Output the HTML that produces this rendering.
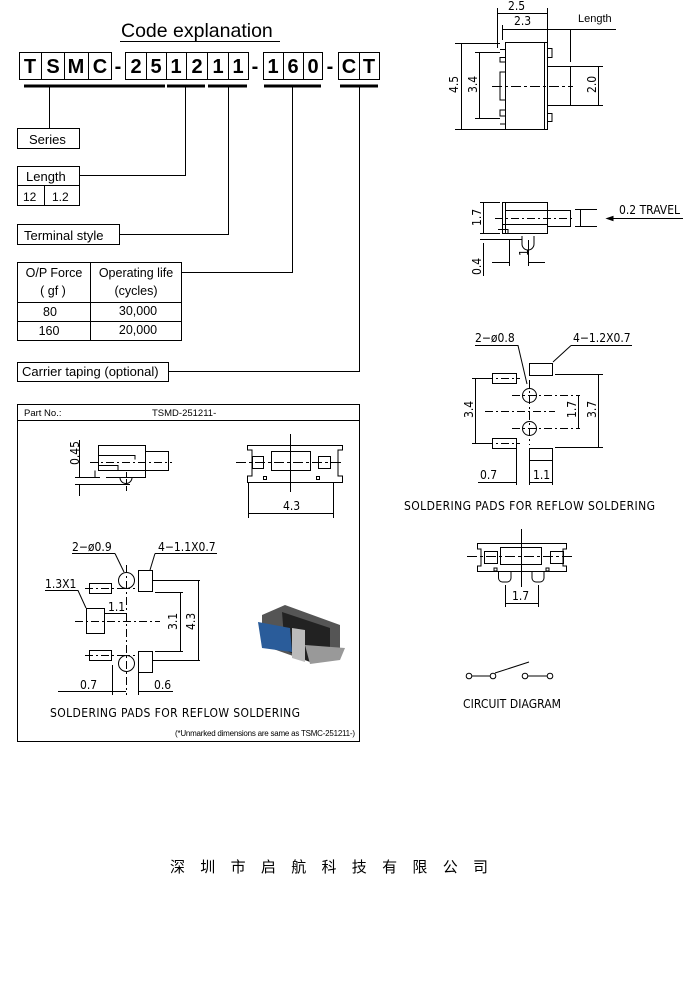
<!DOCTYPE html>
<html><head><meta charset="utf-8"><style>
html,body{margin:0;padding:0;background:#fff;width:698px;height:986px;overflow:hidden}
svg{display:block}
text{font-family:"Liberation Sans",sans-serif;fill:#000}
.b{font-weight:bold;font-size:20px}
.c{font-family:"DejaVu Sans Condensed","Liberation Sans Narrow","Liberation Sans",sans-serif}
</style></head><body>
<svg width="698" height="986" viewBox="0 0 698 986" xmlns="http://www.w3.org/2000/svg" fill="none" stroke="#000" stroke-width="1">
<!-- Code explanation -->
<text x="121" y="37" font-size="19.5" stroke="none">Code explanation</text>
<line x1="120" y1="41.5" x2="280" y2="41.5"/>
<g stroke-width="1">
<rect x="19.5" y="52.5" width="92" height="27"/><line x1="41.5" y1="52" x2="41.5" y2="80"/><line x1="64.5" y1="52" x2="64.5" y2="80"/><line x1="88.5" y1="52" x2="88.5" y2="80"/>
<rect x="125.5" y="52.5" width="123" height="27"/><line x1="146.5" y1="52" x2="146.5" y2="80"/><line x1="166.5" y1="52" x2="166.5" y2="80"/><line x1="186.5" y1="52" x2="186.5" y2="80"/><line x1="207.5" y1="52" x2="207.5" y2="80"/><line x1="228.5" y1="52" x2="228.5" y2="80"/>
<rect x="263.5" y="52.5" width="59" height="27"/><line x1="283.5" y1="52" x2="283.5" y2="80"/><line x1="303.5" y1="52" x2="303.5" y2="80"/>
<rect x="338.5" y="52.5" width="41" height="27"/><line x1="359.5" y1="52" x2="359.5" y2="80"/>
</g>
<g stroke="none" font-weight="bold" font-size="20" text-anchor="middle">
<text x="30" y="73" font-weight="bold">T</text><text x="53" y="73" font-weight="bold">S</text><text x="76" y="73" font-weight="bold">M</text><text x="100" y="73" font-weight="bold">C</text>
<text x="118" y="73" font-weight="bold">-</text>
<text x="136" y="73" font-weight="bold">2</text><text x="156" y="73" font-weight="bold">5</text><text x="176" y="73" font-weight="bold">1</text><text x="197" y="73" font-weight="bold">2</text><text x="218" y="73" font-weight="bold">1</text><text x="238" y="73" font-weight="bold">1</text>
<text x="255" y="73" font-weight="bold">-</text>
<text x="273" y="73" font-weight="bold">1</text><text x="293" y="73" font-weight="bold">6</text><text x="313" y="73" font-weight="bold">0</text>
<text x="330" y="73" font-weight="bold">-</text>
<text x="349" y="73" font-weight="bold">C</text><text x="369" y="73" font-weight="bold">T</text>
</g>
<g stroke-width="3">
<line x1="24" y1="86" x2="165" y2="86"/><line x1="167" y1="86" x2="205" y2="86"/><line x1="208" y1="86" x2="247" y2="86"/><line x1="264" y1="86" x2="321" y2="86"/><line x1="340" y1="86" x2="378" y2="86"/>
</g>
<path d="M49.5 86V128M185.5 86V175.5H79M228.5 86V234.5H119M292.5 86V272.5H181M359.5 86V371.5H168"/>
<rect x="17.5" y="128.5" width="62" height="20"/>
<text x="29" y="144" font-size="13" stroke="none">Series</text>
<rect x="17.5" y="166.5" width="62" height="39"/><line x1="17" y1="185.5" x2="80" y2="185.5"/><line x1="44.5" y1="185" x2="44.5" y2="206"/>
<text x="26" y="181" font-size="13" stroke="none">Length</text>
<text x="23" y="201" font-size="12" stroke="none">12</text><text x="52" y="201" font-size="12" stroke="none">1.2</text>
<rect x="17.5" y="224.5" width="102" height="20"/>
<text x="24" y="240" font-size="13" stroke="none">Terminal style</text>
<rect x="17.5" y="262.5" width="164" height="78"/><line x1="90.5" y1="262" x2="90.5" y2="341"/><line x1="17" y1="302.5" x2="182" y2="302.5"/><line x1="17" y1="321.5" x2="182" y2="321.5"/>
<g stroke="none" font-size="12.5" text-anchor="middle">
<text x="54" y="277">O/P Force</text><text x="53" y="295">( gf )</text>
<text x="136" y="277">Operating life</text><text x="136" y="295">(cycles)</text>
<text x="50" y="316">80</text><text x="138" y="315">30,000</text>
<text x="49" y="335">160</text><text x="138" y="334">20,000</text>
</g>
<rect x="17.5" y="362.5" width="151" height="19"/>
<text x="22" y="376" font-size="13" stroke="none">Carrier taping (optional)</text>

<!-- bottom-left panel -->
<rect x="17.5" y="404.5" width="342" height="337"/>
<line x1="17" y1="420.5" x2="360" y2="420.5"/>
<text x="24" y="416" font-size="9.5" stroke="none">Part No.:</text>
<text x="152" y="416" font-size="9.5" stroke="none">TSMD-251211-</text>
<!-- side view -->
<path d="M98.5 445.5H145.5V470.5H98.5ZM145.5 451.5H168.5V470.5H145.5ZM98.5 455.5H135V459.5M98.5 465.5H118V470.5M95 470.5V477.5H98M106 477.5H145.5V470.5M120 477.5A6 6 0 0 0 132 477.5"/>
<path d="M90 462.5H172" stroke-dasharray="8 3 2 3"/>
<path d="M126.5 472V492" stroke-dasharray="5 2"/>
<path d="M75 477.5H100M75 484.5H130M79.5 440V477M79.5 484V496"/>
<text x="0" y="0" font-size="12" stroke="none" class="c" transform="translate(79 465) rotate(-90)">0.45</text>
<!-- top view -->
<path d="M247.5 445.5H342.5V450H338V476H342.5V482.5H247.5V476H252V450H247.5Z"/>
<rect x="271.5" y="451.5" width="39" height="19"/><rect x="252.5" y="456.5" width="11" height="12"/><rect x="318.5" y="456.5" width="12" height="12"/>
<rect x="263.5" y="476.5" width="3" height="3"/><rect x="316.5" y="476.5" width="3" height="3"/>
<path d="M236 462.5H342" stroke-dasharray="10 3 3 3"/><path d="M290.5 434V492"/>
<path d="M248.5 482V518M333.5 482V518M249 513.5H333"/>
<text x="283" y="510" font-size="12" stroke="none" class="c">4.3</text>
<!-- pads -->
<text x="72" y="551" font-size="12" stroke="none" class="c">2−ø0.9</text><line x1="72" y1="553.5" x2="115" y2="553.5"/>
<path d="M115 553.5L124 572"/>
<text x="158" y="551" font-size="12" stroke="none" class="c">4−1.1X0.7</text><line x1="155" y1="553.5" x2="217" y2="553.5"/>
<path d="M155 553.5L150 570"/>
<circle cx="126.5" cy="580.5" r="8"/><circle cx="126.5" cy="663.5" r="8"/>
<rect x="138.5" y="570.5" width="14" height="21"/><rect x="138.5" y="651.5" width="14" height="21"/>
<rect x="89.5" y="583.5" width="22" height="10"/><rect x="89.5" y="650.5" width="22" height="10"/>
<rect x="86.5" y="608.5" width="18" height="25"/>
<text x="45" y="588" font-size="12" stroke="none" class="c">1.3X1</text>
<path d="M45 590.5H78L86 608"/>
<path d="M126.5 565V695" stroke-dasharray="8 3 2 3"/>
<path d="M75 621.5H160M85 588.5H135M85 655.5H135" stroke-dasharray="8 3 2 3"/>
<text x="108" y="611" font-size="12" stroke="none" class="c">1.1</text><path d="M105 613.5H126"/>
<path d="M153 580.5H200M155 592.5H183M155 651.5H183M153 660.5H200M180.5 593V651M198.5 581V660"/>
<text x="0" y="0" font-size="12" stroke="none" class="c" transform="translate(177 630) rotate(-90)">3.1</text>
<text x="0" y="0" font-size="12" stroke="none" class="c" transform="translate(195 630) rotate(-90)">4.3</text>
<path d="M112.5 665V695M138.5 665V695M58 691.5H126M138 691.5H173"/>
<text x="80" y="689" font-size="12" stroke="none" class="c">0.7</text>
<text x="154" y="689" font-size="12" stroke="none" class="c">0.6</text>
<text x="50" y="717" font-size="12" stroke="none" class="c" textLength="250">SOLDERING PADS FOR REFLOW SOLDERING</text>
<text x="175" y="736" font-size="8" stroke="none" textLength="180">(*Unmarked dimensions are same as TSMC-251211-)</text>
<!-- photo -->
<g stroke="none">
<path d="M262 615L285 605L340 625L340 650L310 662L262 645Z" fill="#555"/>
<path d="M282 612L330 628L330 655L310 662L285 650Z" fill="#222"/>
<path d="M258 622L290 628L292 652L262 648Z" fill="#2a5c9a"/>
<path d="M292 628L305 630L305 662L292 658Z" fill="#bbb"/>
<path d="M305 645L345 648L340 660L310 664Z" fill="#999"/>
</g>

<!-- right: top view -->
<path d="M505.5 42.5H547.5V129.5H505.5ZM500 49.5H505.5V57.5H500V62H505.5V72H500V100H505.5V110H500V116H505.5V124H500M547.5 48.5H552V57.5H547.5M547.5 113.5H552V121.5H547.5M544.5 43V129"/>
<rect x="547.5" y="66.5" width="23" height="39"/>
<path d="M492 86.5H573" stroke-dasharray="10 3 3 3"/>
<path d="M497.5 8V48M547.5 8V48M497 13.5H547M502.5 25V40M502 29.5H616M570.5 29V62"/>
<text x="508" y="10" font-size="12" stroke="none" class="c">2.5</text>
<text x="514" y="25" font-size="12" stroke="none" class="c">2.3</text>
<text x="578" y="22" font-size="11" stroke="none">Length</text>
<path d="M455 43.5H500M475 52.5H500M475 118.5H500M455 129.5H505M461.5 43V129M479.5 52V118M570 66.5H603M570 105.5H603M598.5 66V105"/>
<text x="0" y="0" font-size="12" stroke="none" class="c" transform="translate(458 93) rotate(-90)">4.5</text>
<text x="0" y="0" font-size="12" stroke="none" class="c" transform="translate(477 93) rotate(-90)">3.4</text>
<text x="0" y="0" font-size="12" stroke="none" class="c" transform="translate(596 93) rotate(-90)">2.0</text>
<!-- right: side view -->
<path d="M502.5 202.5H547.5V233.5H502.5ZM505.5 210.5H547.5M505.5 202V233M502.5 224.5H547.5M498 229.5H508V234M547.5 210.5H570.5V226.5H547.5"/>
<path d="M495 218.5H575" stroke-dasharray="8 3 2 3"/>
<path d="M522 236V244A6 6 0 0 0 534 244V236"/>
<path d="M480 202.5H500M480 233.5H500M483.5 202V233M480 239.5H522M483.5 243V276M575 209.5H597M575 226.5H597M580.5 210V226"/>
<text x="0" y="0" font-size="12" stroke="none" class="c" transform="translate(481 226) rotate(-90)">1.7</text>
<text x="0" y="0" font-size="12" stroke="none" class="c" transform="translate(481 275) rotate(-90)">0.4</text>
<path d="M509.5 240V266M528.5 240V266M492 262.5H509M528 262.5H545"/>
<text x="0" y="0" font-size="12" stroke="none" class="c" transform="translate(528 256) rotate(-90)">1</text>
<path d="M607 218.5H683"/><path d="M607 218.5L613 216.5V220.5Z" fill="#000"/>
<text x="619" y="214" font-size="12" stroke="none" class="c">0.2 TRAVEL</text>
<!-- right: pads -->
<text x="475" y="342" font-size="12" stroke="none" class="c">2−ø0.8</text><path d="M475 345.5H518L527 384"/>
<text x="573" y="342" font-size="12" stroke="none" class="c">4−1.2X0.7</text><path d="M571 345.5H632M571 345.5L553 362"/>
<rect x="529.5" y="363.5" width="23" height="12"/><rect x="529.5" y="448.5" width="23" height="12"/>
<rect x="492.5" y="373.5" width="24" height="10"/><rect x="492.5" y="438.5" width="24" height="10"/>
<circle cx="529.5" cy="395.5" r="7"/><circle cx="529.5" cy="428.5" r="7"/>
<path d="M529.5 380V445M485 411.5H555M485 378.5H520M485 443.5H520M512 395.5H580M512 428.5H580" stroke-dasharray="8 3 2 3"/>
<path d="M555 374.5H603M555 447.5H603M598.5 375V447M578.5 395V428M475.5 378V443M472 378.5H490M472 443.5H490"/>
<text x="0" y="0" font-size="12" stroke="none" class="c" transform="translate(473 418) rotate(-90)">3.4</text>
<text x="0" y="0" font-size="12" stroke="none" class="c" transform="translate(576 418) rotate(-90)">1.7</text>
<text x="0" y="0" font-size="12" stroke="none" class="c" transform="translate(596 418) rotate(-90)">3.7</text>
<path d="M516.5 445V485M529.5 448V485M552.5 460V485M478 482.5H516M529 482.5H552"/>
<text x="480" y="479" font-size="12" stroke="none" class="c">0.7</text>
<text x="533" y="479" font-size="12" stroke="none" class="c">1.1</text>
<text x="404" y="510" font-size="12" stroke="none" class="c" textLength="251">SOLDERING PADS FOR REFLOW SOLDERING</text>
<!-- right: bottom view -->
<path d="M477.5 543.5H566.5V549H563V566H566.5V571.5H477.5V566H481V549H477.5Z"/>
<rect x="500.5" y="547.5" width="41" height="17"/><rect x="484.5" y="551.5" width="13" height="12"/><rect x="550.5" y="551.5" width="13" height="12"/>
<rect x="494" y="568" width="3" height="3"/><rect x="546" y="568" width="3" height="3"/>
<path d="M498.5 572V578A4 4 0 0 0 502.5 582H507A4 4 0 0 0 511 578V572M532 572V578A4 4 0 0 0 536 582H540A4 4 0 0 0 544 578V572"/>
<path d="M467 556.5H572" stroke-dasharray="10 3 3 3"/><path d="M521.5 529V587"/>
<path d="M505.5 585V607M538.5 585V607M505 603.5H538"/>
<text x="512" y="600" font-size="12" stroke="none" class="c">1.7</text>
<!-- circuit -->
<circle cx="469" cy="676" r="2.8"/><circle cx="493" cy="676" r="2.8"/><circle cx="525" cy="676" r="2.8"/><circle cx="550" cy="676" r="2.8"/>
<path d="M472 676H490M528 676H547M495 673L529 662"/>
<text x="463" y="708" font-size="12" stroke="none" class="c" textLength="98">CIRCUIT DIAGRAM</text>
<!-- Chinese -->
<text x="170" y="872" font-size="15" stroke="none" letter-spacing="15.3" style='font-family:"Noto Sans CJK SC","WenQuanYi Zen Hei",sans-serif'>深圳市启航科技有限公司</text>
</svg>
</body></html>
